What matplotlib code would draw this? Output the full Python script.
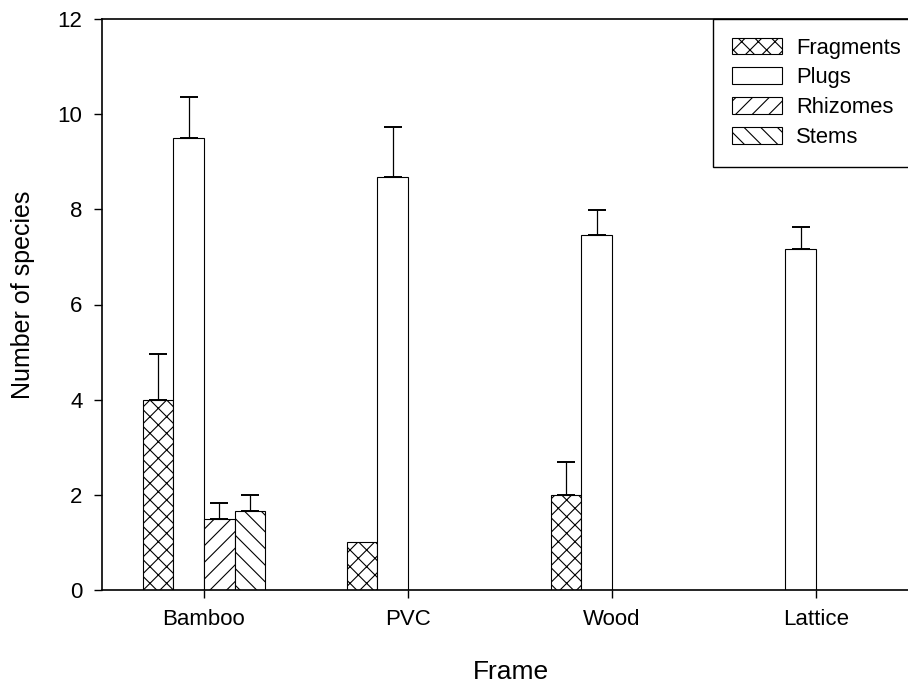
import numpy as np
import matplotlib
matplotlib.use("Agg")
import matplotlib.pyplot as plt

plt.rcParams['font.family'] = ['Liberation Sans', 'DejaVu Sans']
plt.rcParams['hatch.linewidth'] = 0.8

frames = ["Bamboo", "PVC", "Wood", "Lattice"]
series = ["Fragments", "Plugs", "Rhizomes", "Stems"]
fragments = [4.0, 1.0, 2.0, np.nan]
plugs = [9.5, 8.67, 7.47, 7.17]
rhizomes = [1.5, np.nan, np.nan, np.nan]
stems = [1.67, np.nan, np.nan, np.nan]
fragments_err = [0.95, 0.0, 0.7, 0.0]
plugs_err = [0.87, 1.06, 0.52, 0.46]
rhizomes_err = [0.33, 0.0, 0.0, 0.0]
stems_err = [0.33, 0.0, 0.0, 0.0]
yticks = [0, 2, 4, 6, 8, 10, 12]

values = [fragments, plugs, rhizomes, stems]
errors = [fragments_err, plugs_err, rhizomes_err, stems_err]
hatches = ['xx', '', '//', '\\\\']

W, H = 908, 683
fig = plt.figure(figsize=(W / 100, H / 100), dpi=100)
left, right, top, bottom = 102, 918, 19, 590
ax = fig.add_axes([left / W, 1 - bottom / H, (right - left) / W, (bottom - top) / H])

x = np.arange(len(frames))
bw = 0.15
offsets = [-1.5, -0.5, 0.5, 1.5]
for vals, errs, h, off, name in zip(values, errors, hatches, offsets, series):
    v = np.array(vals, dtype=float)
    e = np.array(errs, dtype=float)
    pos = x + off * bw
    mask = ~np.isnan(v)
    ax.bar(pos[mask], v[mask], width=bw, color='white', edgecolor='black',
           linewidth=0.8, hatch=h, label=name, zorder=2)
    em = mask & (e > 0)
    ax.errorbar(pos[em], v[em], yerr=[np.zeros(em.sum()), e[em]], fmt='none',
                ecolor='black', elinewidth=0.9, capsize=6.3, capthick=1.4, zorder=3)

ax.set_xlim(-0.5, 3.5)
ax.set_ylim(0, 12)
ax.set_yticks(yticks)
ax.set_xticks(x)
ax.set_xticklabels(frames)
ax.tick_params(axis='both', direction='out', length=6, width=1, labelsize=16, pad=8)
for s in ax.spines.values():
    s.set_linewidth(1.2)

fig.text(511 / W, 1 - 679 / H, "Frame", fontsize=19, ha='center', va='baseline')
fig.text(23 / W, 1 - 295 / H, "Number of species", fontsize=18, ha='center', va='center',
         rotation=90)

leg = ax.legend(loc='upper left', bbox_to_anchor=(713 / W, 1 - 19 / H),
                bbox_transform=fig.transFigure, fontsize=15.8, frameon=True,
                fancybox=False, edgecolor='black', framealpha=1,
                handlelength=2.3, handleheight=0.8, handletextpad=0.65,
                labelspacing=0.4, borderpad=0.85, borderaxespad=0)
leg.get_frame().set_linewidth(1.0)

fig.savefig("out.png", dpi=100)
